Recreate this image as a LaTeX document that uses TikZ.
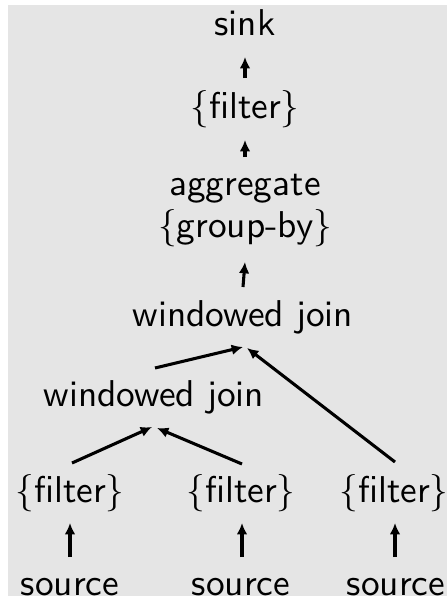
\documentclass[tikz,border=0pt]{standalone}
\usepackage{fontspec}
\newfontfamily\lmsten{lmsans10-regular.otf}
\usetikzlibrary{calc,arrows.meta}
\begin{document}
\begin{tikzpicture}[x=0.75pt,y=-0.75pt,
  lbl/.style={anchor=base,inner sep=0pt,font=\lmsten\fontsize{28}{33}\selectfont},
  arr/.style={line width=2.3pt,-{Latex[length=8.5pt,width=8pt]}}]
\useasboundingbox (0,0) rectangle (447,596);
\fill[black!10] (8,5) rectangle (447,596);
\node[lbl] (sink) at (245,35) {sink};
\node[lbl] (f0) at (245,118) {\{filter\}};
\node[lbl] (agg) at (245,195) {aggregate};
\node[lbl] (grp) at (245,237) {\{group-by\}};
\node[lbl] (wj1) at (243,326) {windowed join};
\node[lbl] (wj2) at (154,406) {windowed join};
\node[lbl] (fa) at (70,502) {\{filter\}};
\node[lbl] (fb) at (241,502) {\{filter\}};
\node[lbl] (fc) at (394,502) {\{filter\}};
\node[lbl] (sa) at (70,595) {source};
\node[lbl] (sb) at (241,595) {source};
\node[lbl] (sc) at (396,595) {source};
\draw[arr] ($(f0.base)+(0,-40)$) -- ($(sink.base)+(0,22)$);
\draw[arr] ($(agg.base)+(0,-38)$) -- ($(f0.base)+(0,22)$);
\draw[arr] ($(wj1.base)+(0,-39)$) -- ($(grp.base)+(0,25)$);
\draw[arr] ($(wj2.base)+(1,-38)$) -- ($(wj1.base)+(0,21)$);
\draw[arr] ($(fc.base)+(1,-40)$) -- ($(wj1.base)+(4,22)$);
\draw[arr] ($(fa.base)+(2,-39)$) -- ($(wj2.base)+(-2,21)$);
\draw[arr] ($(fb.base)+(1,-38)$) -- ($(wj2.base)+(3,22)$);
\draw[arr] ($(sa.base)+(0,-38)$) -- ($(fa.base)+(0,21)$);
\draw[arr] ($(sb.base)+(1,-38)$) -- ($(fb.base)+(1,21)$);
\draw[arr] ($(sc.base)+(-1,-38)$) -- ($(fc.base)+(1,21)$);
\end{tikzpicture}
\end{document}
